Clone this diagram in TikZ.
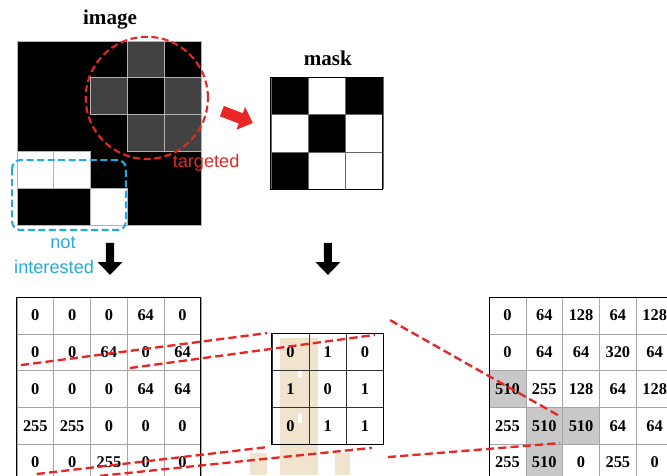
\documentclass[tikz,border=0pt]{standalone}
\usepackage{fontspec}
\setmainfont{Liberation Serif}
\setsansfont{Liberation Sans}
\definecolor{dashred}{RGB}{232,38,38}
\definecolor{skyblue}{RGB}{35,170,225}
\definecolor{pixgray}{RGB}{66,66,66}
\definecolor{cellgray}{RGB}{200,200,200}
\definecolor{wmark}{RGB}{240,228,206}
\tikzset{
  num/.style={font=\bfseries\fontsize{14}{16}\selectfont, inner sep=0pt},
  title/.style={font=\bfseries\fontsize{18}{20}\selectfont},
  note/.style={font=\sffamily\fontsize{15.5}{17}\selectfont, inner sep=0pt},
  link/.style={dashred, line width=2pt, dash pattern=on 7pt off 3.5pt},
  region/.style={line width=1.8pt, dash pattern=on 6pt off 3pt},
}
\begin{document}
\begin{tikzpicture}[x=1.104cm, y=1.104cm]
\useasboundingbox (0,0) rectangle (18.125,-12.908);
\clip (0,0) rectangle (18.125,-12.908);

% faint watermark behind the kernel
\fill[wmark] (7.61,-9.18) rectangle (8.64,-12.91);
\fill[white] (8.10,-10.05) rectangle (8.21,-10.27);
\fill[white] (8.10,-11.22) rectangle (8.21,-11.49);
\fill[wmark] (9.10,-12.31) rectangle (9.51,-12.91);
\fill[wmark] (6.79,-12.31) rectangle (7.26,-12.91);

% image
\node[title] (imgtitle) at (2.99,-0.54) {image};
\begin{scope}[shift={(0.46,-6.11)}]
  \fill (0,0) rectangle (5,5);
  \filldraw[fill=pixgray, draw=gray!60] (3,4) rectangle (4,5);
  \filldraw[fill=pixgray, draw=gray!60] (2,3) rectangle (3,4);
  \filldraw[fill=pixgray, draw=gray!60] (4,3) rectangle (5,4);
  \filldraw[fill=pixgray, draw=gray!60] (3,2) rectangle (4,3);
  \filldraw[fill=pixgray, draw=gray!60] (4,2) rectangle (5,3);
  \filldraw[fill=white, draw=gray!60] (0,1) rectangle (1,2);
  \filldraw[fill=white, draw=gray!60] (1,1) rectangle (2,2);
  \filldraw[fill=white, draw=gray!60] (2,0) rectangle (3,1);
  \draw[gray!60] (0,0) rectangle (5,5);
\end{scope}
\draw[dashred, region] (3.99,-2.66) circle (1.66);
\draw[skyblue, region, rounded corners=7pt] (0.33,-4.35) rectangle (3.42,-6.25);
\node[note, dashred] (targeted) at (5.60,-4.43) {targeted};
\node[note, skyblue] (notlbl) at (1.71,-6.60) {not};
\node[note, skyblue] (intlbl) at (1.47,-7.26) {interested};

% block arrows
\fill[dashred, shift={(6.03,-3.02)}, rotate=-21] (0,-0.15) -- (0.55,-0.15) -- (0.55,-0.33) -- (0.9,0) -- (0.55,0.33) -- (0.55,0.15) -- (0,0.15) -- cycle;
\fill (2.88,-6.60) -- (3.10,-6.60) -- (3.10,-7.12) -- (3.33,-7.12) -- (2.99,-7.47) -- (2.65,-7.12) -- (2.88,-7.12) -- cycle;
\fill (8.80,-6.60) -- (9.02,-6.60) -- (9.02,-7.12) -- (9.25,-7.12) -- (8.91,-7.47) -- (8.57,-7.12) -- (8.80,-7.12) -- cycle;

% mask
\node[title] (masktitle) at (8.91,-1.58) {mask};
\begin{scope}[shift={(7.36,-5.14)}, scale=1.015]
  \fill (0,2) rectangle (1,3);
  \fill (2,2) rectangle (3,3);
  \fill (1,1) rectangle (2,2);
  \fill (0,0) rectangle (1,1);
  \draw[black!60, step=1] (0,0) grid (3,3);
  \draw[thick] (0,0) rectangle (3,3);
\end{scope}

% pixel values
\begin{scope}[shift={(0.46,-8.07)}]
  \draw[gray!70, step=1] (0,0) grid (5,-5);
  \draw[thick] (0,0) rectangle (5,-5);
  \node[num] (l00) at (0.5,-0.5) {0}; \node[num] (l01) at (1.5,-0.5) {0}; \node[num] (l02) at (2.5,-0.5) {0}; \node[num] (l03) at (3.5,-0.5) {64}; \node[num] (l04) at (4.5,-0.5) {0};
  \node[num] (l10) at (0.5,-1.5) {0}; \node[num] (l11) at (1.5,-1.5) {0}; \node[num] (l12) at (2.5,-1.5) {64}; \node[num] (l13) at (3.5,-1.5) {0}; \node[num] (l14) at (4.5,-1.5) {64};
  \node[num] (l20) at (0.5,-2.5) {0}; \node[num] (l21) at (1.5,-2.5) {0}; \node[num] (l22) at (2.5,-2.5) {0}; \node[num] (l23) at (3.5,-2.5) {64}; \node[num] (l24) at (4.5,-2.5) {64};
  \node[num] (l30) at (0.5,-3.5) {255}; \node[num] (l31) at (1.5,-3.5) {255}; \node[num] (l32) at (2.5,-3.5) {0}; \node[num] (l33) at (3.5,-3.5) {0}; \node[num] (l34) at (4.5,-3.5) {0};
  \node[num] (l40) at (0.5,-4.5) {0}; \node[num] (l41) at (1.5,-4.5) {0}; \node[num] (l42) at (2.5,-4.5) {255}; \node[num] (l43) at (3.5,-4.5) {0}; \node[num] (l44) at (4.5,-4.5) {0};
\end{scope}

% mask values
\begin{scope}[shift={(7.39,-9.05)}, scale=1.01]
  \draw[black!80, step=1] (0,0) grid (3,-3);
  \draw[thick] (0,0) rectangle (3,-3);
  \node[num] (m00) at (0.5,-0.5) {0}; \node[num] (m01) at (1.5,-0.5) {1}; \node[num] (m02) at (2.5,-0.5) {0};
  \node[num] (m10) at (0.5,-1.5) {1}; \node[num] (m11) at (1.5,-1.5) {0}; \node[num] (m12) at (2.5,-1.5) {1};
  \node[num] (m20) at (0.5,-2.5) {0}; \node[num] (m21) at (1.5,-2.5) {1}; \node[num] (m22) at (2.5,-2.5) {1};
\end{scope}

% result
\begin{scope}[shift={(13.29,-8.07)}]
  \fill[cellgray] (0,-2) rectangle (1,-3);
  \fill[cellgray] (1,-3) rectangle (3,-4);
  \fill[cellgray] (1,-4) rectangle (2,-5);
  \draw[gray!70, step=1] (0,0) grid (5,-5);
  \draw[thick] (0,0) rectangle (5,-5);
  \node[num] (r00) at (0.5,-0.5) {0}; \node[num] (r01) at (1.5,-0.5) {64}; \node[num] (r02) at (2.5,-0.5) {128}; \node[num] (r03) at (3.5,-0.5) {64}; \node[num] (r04) at (4.5,-0.5) {128};
  \node[num] (r10) at (0.5,-1.5) {0}; \node[num] (r11) at (1.5,-1.5) {64}; \node[num] (r12) at (2.5,-1.5) {64}; \node[num] (r13) at (3.5,-1.5) {320}; \node[num] (r14) at (4.5,-1.5) {64};
  \node[num] (r20) at (0.5,-2.5) {510}; \node[num] (r21) at (1.5,-2.5) {255}; \node[num] (r22) at (2.5,-2.5) {128}; \node[num] (r23) at (3.5,-2.5) {64}; \node[num] (r24) at (4.5,-2.5) {128};
  \node[num] (r30) at (0.5,-3.5) {255}; \node[num] (r31) at (1.5,-3.5) {510}; \node[num] (r32) at (2.5,-3.5) {510}; \node[num] (r33) at (3.5,-3.5) {64}; \node[num] (r34) at (4.5,-3.5) {64};
  \node[num] (r40) at (0.5,-4.5) {255}; \node[num] (r41) at (1.5,-4.5) {510}; \node[num] (r42) at (2.5,-4.5) {0}; \node[num] (r43) at (3.5,-4.5) {255}; \node[num] (r44) at (4.5,-4.5) {0};
\end{scope}

% red guide lines
\coordinate (srcTL) at (0.57,-9.92);
\coordinate (srcTR) at (3.53,-10.00);
\coordinate (srcBL) at (1.00,-12.88);
\coordinate (srcBR) at (2.72,-12.93);
\coordinate (kerTL) at (7.26,-9.05);
\coordinate (kerTR) at (10.19,-9.10);
\coordinate (kerBL) at (7.26,-12.15);
\coordinate (kerBR) at (10.11,-12.17);
\coordinate (outTA) at (10.60,-8.70);
\coordinate (outTB) at (15.16,-11.28);
\coordinate (outBA) at (10.54,-12.42);
\coordinate (outBB) at (15.22,-12.04);
\draw[link] (srcTL) -- (kerTL);
\draw[link] (srcTR) -- (kerTR);
\draw[link] (srcBL) -- (kerBL);
\draw[link] (srcBR) -- (kerBR);
\draw[link] (outTA) -- (outTB);
\draw[link] (outBA) -- (outBB);
\end{tikzpicture}
\end{document}
